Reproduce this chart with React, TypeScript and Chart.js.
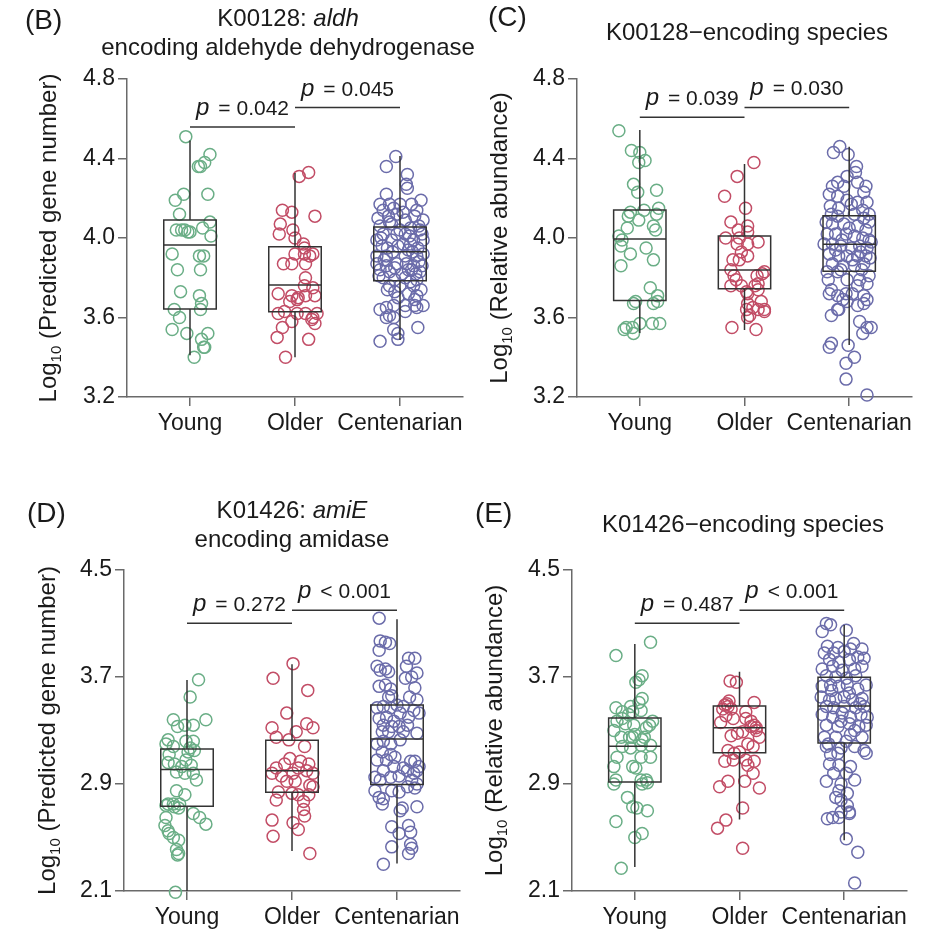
import React, { useEffect, useRef } from 'react';
import { Chart, registerables } from 'chart.js';

Chart.register(...registerables);

// ---------------- data ----------------
const groups = ['Young', 'Older', 'Centenarian'];
const xTickValues = [0, 1, 2];
const yTicksTop = [3.2, 3.6, 4.0, 4.4, 4.8];
const yTicksBottom = [2.1, 2.9, 3.7, 4.5];

// points as [horizontal jitter (category units), value]
const youngB: number[][] = [[-0.04,4.51],[0.19,4.42],[0.14,4.38],[0.08,4.36],[0.10,4.36],[-0.06,4.22],[-0.14,4.19],[0.17,4.22],[-0.10,4.12],[0.19,4.08],[-0.13,4.04],[-0.08,4.04],[-0.05,4.04],[-0.02,4.03],[0.0,4.03],[0.12,4.05],[0.20,4.01],[-0.17,3.92],[0.09,3.91],[0.13,3.91],[-0.12,3.84],[0.10,3.84],[-0.09,3.73],[0.09,3.71],[0.11,3.67],[-0.15,3.64],[-0.10,3.60],[0.10,3.64],[-0.17,3.54],[-0.03,3.52],[0.17,3.52],[0.11,3.49],[0.13,3.45],[0.14,3.45],[0.04,3.40]];
const olderB: number[][] = [[0.04,4.31],[0.13,4.33],[-0.12,4.14],[-0.03,4.13],[0.19,4.11],[-0.14,4.07],[-0.15,4.02],[-0.02,4.04],[0.0,4.00],[0.08,3.97],[0.09,3.95],[0.0,3.92],[0.09,3.92],[0.17,3.92],[0.14,3.91],[-0.11,3.87],[-0.03,3.87],[0.10,3.87],[0.10,3.80],[0.09,3.76],[0.17,3.75],[-0.16,3.72],[-0.03,3.71],[0.03,3.70],[0.10,3.71],[0.19,3.71],[-0.05,3.68],[0.02,3.69],[-0.16,3.62],[-0.10,3.63],[0.02,3.62],[0.10,3.62],[0.21,3.62],[0.17,3.60],[-0.03,3.58],[0.16,3.59],[0.19,3.57],[-0.12,3.55],[-0.17,3.50],[0.13,3.49],[-0.09,3.40]];
const centB: number[][] = [[-0.04,4.41],[-0.13,4.36],[0.07,4.32],[0.06,4.27],[0.07,4.25],[-0.13,4.22],[0.20,4.19],[-0.19,4.17],[-0.10,4.17],[0.0,4.17],[0.11,4.17],[-0.16,4.14],[0.16,4.14],[-0.03,4.12],[-0.21,4.10],[-0.11,4.11],[0.05,4.09],[0.14,4.11],[0.22,4.09],[-0.19,4.06],[-0.08,4.07],[0.0,4.04],[0.10,4.05],[0.19,4.04],[-0.16,4.02],[-0.03,4.02],[0.05,4.02],[0.21,4.02],[-0.22,3.99],[-0.08,3.99],[0.13,3.99],[0.22,3.99],[-0.17,3.96],[-0.02,3.96],[0.08,3.94],[0.17,3.95],[-0.22,3.91],[-0.13,3.91],[0.05,3.91],[0.16,3.91],[0.22,3.92],[-0.22,3.87],[-0.13,3.86],[-0.03,3.87],[0.06,3.87],[0.13,3.86],[0.21,3.86],[-0.19,3.84],[-0.10,3.83],[0.02,3.82],[0.11,3.84],[0.19,3.83],[-0.16,3.80],[-0.05,3.79],[0.05,3.80],[0.16,3.79],[-0.10,3.76],[0.0,3.76],[0.13,3.76],[-0.05,3.73],[0.08,3.72],[0.16,3.71],[-0.02,3.70],[0.14,3.69],[-0.06,3.66],[0.05,3.66],[0.14,3.66],[0.22,3.66],[-0.19,3.64],[-0.13,3.65],[-0.10,3.61],[0.05,3.63],[0.16,3.65],[-0.13,3.60],[-0.06,3.60],[0.17,3.55],[-0.06,3.54],[-0.02,3.52],[-0.19,3.48],[-0.02,3.49],[-0.18,4.00],[0.09,4.01],[-0.12,3.95],[0.03,3.97],[0.12,3.93],[-0.07,3.93],[0.18,3.88],[-0.15,3.89],[0.08,3.84],[-0.05,3.85],[0.15,3.82],[-0.20,3.81],[0.10,3.78],[-0.12,3.74],[0.20,3.74],[0.10,3.97],[-0.10,4.08],[0.03,4.13],[-0.06,4.15],[0.18,4.06]];

const youngC: number[][] = [[-0.20,4.54],[-0.08,4.44],[0.0,4.43],[0.05,4.39],[-0.01,4.38],[-0.06,4.27],[-0.02,4.23],[0.16,4.24],[-0.09,4.13],[-0.11,4.11],[-0.01,4.09],[0.04,4.14],[0.18,4.15],[0.16,4.12],[0.13,4.06],[0.15,4.04],[-0.12,4.05],[-0.20,4.01],[-0.17,3.99],[-0.18,3.96],[0.06,3.95],[-0.09,3.92],[0.13,3.89],[-0.18,3.86],[0.10,3.75],[0.17,3.71],[0.17,3.68],[0.13,3.67],[-0.04,3.68],[-0.06,3.67],[-0.15,3.54],[-0.07,3.55],[0.0,3.57],[0.12,3.57],[0.19,3.57],[-0.06,3.52],[-0.13,3.55]];
const olderC: number[][] = [[0.09,4.38],[-0.07,4.31],[-0.19,4.21],[0.01,4.15],[-0.13,4.08],[-0.06,4.04],[0.03,4.06],[0.03,4.03],[-0.18,4.00],[-0.07,3.97],[0.03,3.97],[0.13,3.98],[-0.05,4.00],[-0.03,3.93],[-0.11,3.89],[-0.05,3.89],[0.03,3.91],[-0.13,3.84],[-0.10,3.81],[-0.08,3.79],[-0.13,3.76],[0.12,3.81],[0.17,3.82],[0.10,3.76],[0.13,3.77],[0.02,3.73],[-0.03,3.76],[0.03,3.67],[0.02,3.64],[0.05,3.61],[0.16,3.68],[0.19,3.64],[0.13,3.64],[0.03,3.60],[-0.12,3.55],[0.11,3.54],[0.19,3.83],[0.13,3.74],[0.03,3.72],[0.19,3.63],[0.08,3.65]];
const centC: number[][] = [[-0.15,4.43],[-0.09,4.46],[-0.01,4.42],[0.07,4.36],[0.06,4.33],[-0.02,4.31],[-0.11,4.28],[-0.16,4.26],[-0.05,4.26],[0.08,4.28],[0.16,4.26],[0.14,4.23],[-0.19,4.22],[-0.11,4.21],[-0.02,4.19],[0.08,4.18],[0.17,4.18],[-0.18,4.16],[-0.10,4.15],[0.02,4.17],[0.13,4.14],[0.19,4.12],[-0.17,4.12],[-0.11,4.11],[0.05,4.12],[0.14,4.10],[0.19,4.08],[-0.22,4.08],[-0.16,4.07],[-0.05,4.07],[0.08,4.06],[0.16,4.04],[-0.21,4.02],[-0.13,4.02],[-0.03,4.02],[0.05,4.01],[0.13,4.00],[0.19,3.99],[-0.24,3.97],[-0.16,3.97],[-0.08,3.96],[0.02,3.95],[0.10,3.96],[0.17,3.95],[0.21,3.98],[-0.19,3.92],[-0.10,3.91],[-0.02,3.91],[0.08,3.91],[0.16,3.91],[-0.16,3.87],[-0.06,3.86],[0.05,3.86],[0.14,3.87],[-0.21,3.83],[-0.11,3.83],[-0.02,3.79],[0.10,3.79],[0.19,3.81],[-0.17,3.74],[0.08,3.76],[0.17,3.77],[-0.11,3.71],[-0.03,3.72],[0.03,3.72],[0.14,3.71],[0.17,3.69],[-0.19,3.72],[-0.02,3.68],[-0.06,3.69],[0.14,3.67],[0.08,3.66],[-0.11,3.64],[-0.17,3.61],[-0.10,3.64],[0.10,3.58],[0.17,3.55],[0.21,3.55],[0.13,3.52],[-0.17,3.47],[-0.19,3.45],[-0.01,3.46],[0.05,3.40],[-0.03,3.37],[-0.03,3.29],[0.17,3.21],[0.0,4.05],[-0.07,3.99],[0.11,3.93],[-0.13,3.94],[0.03,3.89],[0.20,3.90],[-0.08,3.84],[0.12,3.84],[-0.20,3.79]];

const youngD: number[][] = [[0.11,3.68],[0.03,3.55],[0.18,3.38],[-0.13,3.38],[-0.09,3.33],[-0.02,3.34],[0.06,3.34],[-0.18,3.23],[-0.20,3.20],[-0.13,3.18],[-0.01,3.22],[0.06,3.22],[0.03,3.17],[0.07,3.15],[0.01,3.14],[-0.17,3.12],[-0.18,3.06],[-0.12,3.05],[-0.05,3.03],[0.04,3.04],[-0.01,3.08],[0.06,2.98],[-0.02,2.98],[-0.10,2.99],[0.09,2.93],[-0.10,2.85],[-0.02,2.82],[-0.18,2.75],[-0.20,2.74],[-0.13,2.75],[-0.07,2.75],[-0.12,2.73],[-0.08,2.72],[-0.20,2.65],[0.06,2.68],[0.12,2.65],[0.18,2.60],[-0.17,2.53],[-0.13,2.50],[-0.08,2.48],[-0.21,2.59],[-0.18,2.55],[-0.10,2.41],[-0.08,2.38],[-0.09,2.37],[-0.11,2.09]];
const olderD: number[][] = [[0.01,3.80],[-0.18,3.69],[0.15,3.60],[-0.05,3.43],[-0.19,3.32],[0.04,3.29],[0.14,3.35],[0.20,3.32],[-0.15,3.25],[-0.03,3.23],[0.12,3.18],[-0.02,3.09],[0.08,3.07],[0.16,3.05],[-0.07,3.05],[-0.15,3.02],[-0.19,2.98],[-0.10,2.96],[0.01,2.98],[0.06,3.02],[0.14,3.00],[0.20,2.98],[0.17,2.89],[0.20,2.88],[-0.05,2.92],[0.03,2.92],[-0.13,2.84],[0.0,2.83],[0.06,2.82],[0.16,2.82],[-0.15,2.78],[0.11,2.77],[0.12,2.66],[0.11,2.71],[-0.19,2.63],[0.01,2.61],[0.06,2.56],[-0.18,2.51],[0.17,2.38]];
const centD: number[][] = [[-0.17,4.14],[-0.16,3.97],[-0.11,3.96],[-0.07,3.95],[-0.17,3.90],[-0.19,3.78],[-0.16,3.75],[-0.11,3.76],[-0.08,3.74],[0.11,3.84],[0.17,3.84],[0.09,3.78],[0.14,3.70],[0.19,3.73],[-0.17,3.63],[-0.11,3.64],[-0.06,3.61],[-0.05,3.56],[-0.08,3.55],[0.19,3.53],[0.12,3.55],[-0.19,3.47],[-0.13,3.48],[-0.06,3.47],[0.0,3.49],[0.06,3.48],[0.16,3.45],[0.21,3.43],[0.11,3.40],[0.03,3.43],[-0.17,3.39],[-0.10,3.40],[-0.03,3.37],[-0.13,3.34],[-0.05,3.33],[0.02,3.33],[-0.14,3.29],[-0.08,3.29],[0.06,3.29],[0.10,3.34],[-0.13,3.22],[-0.06,3.20],[0.19,3.28],[0.03,3.23],[-0.19,3.20],[-0.14,3.14],[-0.06,3.12],[-0.19,3.08],[-0.10,3.08],[-0.02,3.10],[0.13,3.07],[0.17,3.07],[0.21,3.03],[0.10,3.00],[0.16,2.98],[0.19,3.00],[0.06,3.02],[-0.03,3.03],[-0.13,3.00],[-0.21,2.95],[-0.16,2.93],[-0.06,2.95],[0.02,2.96],[0.14,2.93],[0.19,2.90],[-0.21,2.85],[-0.17,2.80],[-0.13,2.79],[-0.14,2.75],[-0.05,2.85],[0.02,2.84],[0.10,2.88],[0.17,2.87],[0.03,2.70],[0.05,2.72],[0.19,2.73],[-0.05,2.58],[0.02,2.53],[0.11,2.59],[0.13,2.54],[-0.05,2.43],[0.13,2.45],[0.14,2.42],[0.11,2.38],[-0.13,2.30],[0.17,3.62],[0.08,3.69]];

const youngE: number[][] = [[0.15,3.96],[-0.18,3.86],[0.07,3.71],[0.04,3.68],[0.01,3.66],[0.07,3.54],[0.04,3.51],[-0.18,3.47],[-0.04,3.48],[-0.12,3.44],[-0.06,3.42],[0.06,3.45],[0.17,3.37],[0.14,3.34],[-0.02,3.44],[-0.17,3.37],[-0.12,3.39],[-0.09,3.35],[-0.01,3.34],[0.11,3.32],[0.0,3.27],[0.09,3.25],[-0.13,3.25],[-0.05,3.25],[-0.20,3.30],[-0.12,3.18],[-0.04,3.17],[0.06,3.19],[0.15,3.19],[-0.02,3.25],[0.07,3.23],[-0.17,3.10],[0.06,3.10],[0.15,3.10],[-0.02,3.03],[0.01,3.02],[-0.20,3.03],[-0.18,2.93],[-0.20,2.90],[0.06,2.93],[0.07,2.90],[0.12,2.91],[0.11,2.93],[-0.07,2.80],[-0.02,2.73],[0.02,2.72],[0.12,2.70],[-0.18,2.62],[0.0,2.50],[0.07,2.53],[-0.13,2.27]];
const olderE: number[][] = [[-0.09,3.67],[-0.03,3.66],[0.14,3.51],[-0.14,3.49],[-0.11,3.48],[-0.16,3.46],[-0.08,3.46],[-0.13,3.41],[-0.06,3.39],[-0.18,3.36],[0.06,3.44],[0.06,3.39],[0.11,3.33],[0.14,3.34],[0.16,3.30],[0.19,3.25],[0.03,3.29],[-0.02,3.28],[-0.08,3.26],[0.08,3.20],[0.13,3.18],[-0.11,3.15],[-0.05,3.13],[0.0,3.14],[-0.14,3.07],[-0.06,3.08],[0.06,3.08],[0.14,3.07],[0.08,3.04],[0.13,2.98],[0.19,2.87],[0.05,2.92],[-0.11,2.92],[-0.19,2.88],[0.03,2.72],[-0.13,2.63],[-0.21,2.57],[0.03,2.42],[-0.12,3.50],[-0.10,3.52],[0.11,3.37],[0.16,3.32]];
const centE: number[][] = [[-0.17,4.10],[-0.13,4.09],[-0.21,4.04],[0.02,4.05],[-0.16,3.93],[-0.06,3.92],[0.06,3.91],[0.17,3.91],[-0.10,3.88],[0.0,3.89],[0.13,3.85],[0.19,3.84],[-0.14,3.83],[-0.05,3.81],[0.05,3.83],[-0.21,3.76],[-0.11,3.78],[-0.02,3.75],[0.10,3.76],[0.17,3.78],[-0.17,3.71],[-0.08,3.70],[0.02,3.69],[0.11,3.71],[-0.21,3.63],[-0.13,3.64],[-0.05,3.63],[0.03,3.64],[0.13,3.61],[0.21,3.64],[-0.22,3.55],[-0.14,3.53],[-0.08,3.54],[0.0,3.55],[0.08,3.53],[0.17,3.54],[-0.17,3.48],[-0.10,3.47],[0.0,3.48],[0.11,3.47],[0.19,3.48],[-0.21,3.42],[-0.11,3.40],[-0.02,3.43],[0.06,3.40],[0.16,3.42],[0.22,3.40],[-0.17,3.34],[-0.06,3.33],[0.05,3.35],[0.14,3.33],[0.21,3.34],[-0.19,3.25],[-0.08,3.25],[0.06,3.27],[0.17,3.25],[0.02,3.22],[-0.17,3.18],[-0.03,3.17],[0.10,3.18],[0.19,3.15],[0.21,3.13],[-0.13,3.12],[-0.06,3.13],[-0.14,3.05],[-0.05,3.04],[0.06,3.03],[-0.10,2.98],[0.02,2.98],[-0.17,2.92],[-0.03,2.90],[0.10,2.93],[-0.05,2.85],[0.03,2.83],[-0.08,2.80],[-0.03,2.78],[0.03,2.74],[-0.03,2.69],[0.05,2.68],[-0.16,2.64],[-0.11,2.65],[-0.05,2.65],[0.05,2.69],[0.02,2.49],[0.13,2.39],[0.10,2.16],[-0.19,3.88],[0.09,3.95],[-0.12,3.60],[0.05,3.58],[0.15,3.50],[-0.03,3.37],[0.10,3.30],[-0.15,3.20]];

// box summaries per group: [lower whisker, Q1, median, Q3, upper whisker]
const boxB = [[3.41,3.643,3.965,4.09,4.49],[3.40,3.629,3.764,3.956,4.327],[3.487,3.785,3.931,4.055,4.413]];
const boxC = [[3.522,3.685,3.995,4.141,4.543],[3.537,3.745,3.839,4.01,4.372],[3.462,3.833,3.968,4.112,4.459]];
const boxD = [[2.1,2.734,3.008,3.162,3.677],[2.399,2.838,3.0,3.228,3.796],[2.305,2.896,3.237,3.49,4.131]];
const boxE = [[2.279,2.915,3.183,3.394,3.946],[2.634,3.133,3.32,3.484,3.739],[2.479,3.207,3.484,3.699,4.088]];

// significance brackets: heights and labels (Young–Older, Older–Centenarian)
const pHeightB = [4.558, 4.656];
const pLabelB = ['= 0.042', '= 0.045'];
const pHeightC = [4.607, 4.657];
const pLabelC = ['= 0.039', '= 0.030'];
const pHeightD = [4.101, 4.2];
const pLabelD = ['= 0.272', '< 0.001'];
const pHeightE = [4.101, 4.2];
const pLabelE = ['= 0.487', '< 0.001'];

// ---------------- styles ----------------
const FONT = "'Liberation Sans', Arial, Helvetica, sans-serif";
const TEXT = '#1a1a1a';
const AXIS = '#6a6a6a';
const BOXC = '#333333';
const groupColors = ['#6aae86', '#c24d66', '#6b6caa'];
const BOX_HALF = 0.25;

type Part = { t: string; i?: boolean };

const panels = [
  {
    id: 'B', left: 0, top: 0, w: 484, h: 455, area: { l: 127, t: 79, r: 463, b: 397 },
    yMin: 3.2, yMax: 4.8, yTicks: yTicksTop,
    points: [youngB, olderB, centB], boxes: boxB, pH: pHeightB, pL: pLabelB,
    letter: '(B)', letterX: 25, letterY: 29,
    title: [[{ t: 'K00128: ' }, { t: 'aldh', i: true }], [{ t: 'encoding aldehyde dehydrogenase' }]] as Part[][],
    titleX: 288, titleY: [26, 55],
    yTitle: ' (Predicted gene number)', yTitleX: 56,
  },
  {
    id: 'C', left: 470, top: 0, w: 457, h: 455, area: { l: 107, t: 79, r: 442, b: 397 },
    yMin: 3.2, yMax: 4.8, yTicks: yTicksTop,
    points: [youngC, olderC, centC], boxes: boxC, pH: pHeightC, pL: pLabelC,
    letter: '(C)', letterX: 18, letterY: 26,
    title: [[{ t: 'K00128\u2212encoding species' }]] as Part[][],
    titleX: 277, titleY: [40],
    yTitle: ' (Relative abundance)', yTitleX: 37,
  },
  {
    id: 'D', left: 0, top: 455, w: 470, h: 476, area: { l: 124, t: 115, r: 460, b: 436 },
    yMin: 2.1, yMax: 4.5, yTicks: yTicksBottom,
    points: [youngD, olderD, centD], boxes: boxD, pH: pHeightD, pL: pLabelD,
    letter: '(D)', letterX: 27, letterY: 67,
    title: [[{ t: 'K01426: ' }, { t: 'amiE', i: true }], [{ t: 'encoding amidase' }]] as Part[][],
    titleX: 292, titleY: [63, 92],
    yTitle: ' (Predicted gene number)', yTitleX: 55,
  },
  {
    id: 'E', left: 470, top: 455, w: 457, h: 476, area: { l: 102, t: 115, r: 437, b: 436 },
    yMin: 2.1, yMax: 4.5, yTicks: yTicksBottom,
    points: [youngE, olderE, centE], boxes: boxE, pH: pHeightE, pL: pLabelE,
    letter: '(E)', letterX: 5, letterY: 67,
    title: [[{ t: 'K01426\u2212encoding species' }]] as Part[][],
    titleX: 273, titleY: [77],
    yTitle: ' (Relative abundance)', yTitleX: 32,
  },
];

function font(size: number, italic = false) {
  return `${italic ? 'italic ' : ''}${size}px ${FONT}`;
}

function drawParts(ctx: CanvasRenderingContext2D, parts: Part[], cx: number, y: number, size: number) {
  let total = 0;
  const widths = parts.map((p) => {
    ctx.font = font(size, !!p.i);
    const w = ctx.measureText(p.t).width;
    total += w;
    return w;
  });
  let x = cx - total / 2;
  parts.forEach((p, k) => {
    ctx.font = font(size, !!p.i);
    ctx.fillText(p.t, x, y);
    x += widths[k];
  });
}

function overlay(s: any) {
  return {
    id: 'overlay' + s.id,
    afterDatasetsDraw(chart: any) {
      const ctx: CanvasRenderingContext2D = chart.ctx;
      const xs = chart.scales.x;
      const ys = chart.scales.y;
      ctx.save();
      ctx.strokeStyle = BOXC;
      ctx.lineWidth = 1.5;
      s.boxes.forEach((b: number[], i: number) => {
        const [lo, q1, med, q3, hi] = b;
        const xc = xs.getPixelForValue(xTickValues[i]);
        const xl = xs.getPixelForValue(xTickValues[i] - BOX_HALF);
        const xr = xs.getPixelForValue(xTickValues[i] + BOX_HALF);
        const yLo = ys.getPixelForValue(lo);
        const yQ1 = ys.getPixelForValue(q1);
        const yMed = ys.getPixelForValue(med);
        const yQ3 = ys.getPixelForValue(q3);
        const yHi = ys.getPixelForValue(hi);
        ctx.beginPath();
        ctx.moveTo(xc, yHi); ctx.lineTo(xc, yQ3);
        ctx.moveTo(xc, yQ1); ctx.lineTo(xc, yLo);
        ctx.moveTo(xl, yMed); ctx.lineTo(xr, yMed);
        ctx.rect(xl, yQ3, xr - xl, yQ1 - yQ3);
        ctx.stroke();
      });
      // significance brackets
      ctx.fillStyle = TEXT;
      ctx.textBaseline = 'alphabetic';
      ctx.textAlign = 'left';
      s.pH.forEach((h: number, k: number) => {
        const x1 = xs.getPixelForValue(xTickValues[k]);
        const x2 = xs.getPixelForValue(xTickValues[k + 1]);
        const y = ys.getPixelForValue(h);
        ctx.beginPath();
        ctx.moveTo(x1, y); ctx.lineTo(x2, y);
        ctx.stroke();
        ctx.font = font(24, true);
        const wp = ctx.measureText('p').width;
        ctx.font = font(21);
        const wt = ctx.measureText(s.pL[k]).width;
        const gap = 9;
        const start = (x1 + x2) / 2 - (wp + gap + wt) / 2;
        ctx.font = font(24, true);
        ctx.fillText('p', start, y - 12);
        ctx.font = font(21);
        ctx.fillText(s.pL[k], start + wp + gap, y - 12);
      });
      ctx.restore();
    },
    afterDraw(chart: any) {
      const ctx: CanvasRenderingContext2D = chart.ctx;
      const area = chart.chartArea;
      ctx.save();
      ctx.fillStyle = TEXT;
      ctx.textBaseline = 'alphabetic';
      ctx.textAlign = 'left';
      // panel letter
      ctx.font = font(28);
      ctx.fillText(s.letter, s.letterX, s.letterY);
      // title
      s.title.forEach((line: Part[], k: number) => {
        drawParts(ctx, line, s.titleX, s.titleY[k], 24);
      });
      // y title (rotated)
      ctx.translate(s.yTitleX, (area.top + area.bottom) / 2);
      ctx.rotate(-Math.PI / 2);
      ctx.font = font(24);
      const w1 = ctx.measureText('Log').width;
      const w3 = ctx.measureText(s.yTitle).width;
      ctx.font = font(15);
      const w2 = ctx.measureText('10').width;
      let x = -(w1 + w2 + w3) / 2;
      ctx.font = font(24);
      ctx.fillText('Log', x, 0);
      x += w1;
      ctx.font = font(15);
      ctx.fillText('10', x, 5);
      x += w2;
      ctx.font = font(24);
      ctx.fillText(s.yTitle, x, 0);
      ctx.restore();
    },
  };
}

function buildConfig(s: any): any {
  const axisCommon = {
    grid: { display: true, drawOnChartArea: false, drawTicks: true, tickLength: 9, color: AXIS, lineWidth: 1.5 },
    border: { display: true, color: AXIS, width: 1.5 },
  };
  return {
    type: 'scatter',
    data: {
      datasets: s.points.map((pts: number[][], i: number) => ({
        label: groups[i],
        data: pts.map(([dx, y]) => ({ x: xTickValues[i] + dx, y })),
        pointRadius: 6,
        pointHoverRadius: 6,
        pointBorderWidth: 1.5,
        pointBackgroundColor: 'rgba(0,0,0,0)',
        pointBorderColor: groupColors[i],
        clip: false,
      })),
    },
    options: {
      responsive: false,
      animation: false,
      events: [],
      layout: { padding: { left: 0, top: s.area.t, right: s.w - s.area.r, bottom: 0 } },
      plugins: { legend: { display: false }, tooltip: { enabled: false }, title: { display: false } },
      scales: {
        x: {
          type: 'linear',
          min: -0.6,
          max: 2.6,
          afterFit: (sc: any) => { sc.height = s.h - s.area.b; },
          afterBuildTicks: (sc: any) => { sc.ticks = xTickValues.map((v) => ({ value: v })); },
          ticks: {
            callback: (v: number) => groups[Math.round(v)],
            font: { size: 23, family: FONT },
            color: TEXT,
            padding: 4,
            autoSkip: false,
            maxRotation: 0,
            minRotation: 0,
          },
          ...axisCommon,
        },
        y: {
          type: 'linear',
          min: s.yMin,
          max: s.yMax,
          afterFit: (sc: any) => { sc.width = s.area.l; },
          afterBuildTicks: (sc: any) => { sc.ticks = s.yTicks.map((v: number) => ({ value: v })); },
          ticks: {
            callback: (v: number) => Number(v).toFixed(1),
            font: { size: 23, family: FONT },
            color: TEXT,
            padding: 3,
          },
          ...axisCommon,
        },
      },
    },
    plugins: [overlay(s)],
  };
}

function Panel({ spec }: { spec: any }) {
  const ref = useRef<HTMLCanvasElement>(null);
  useEffect(() => {
    const chart = new Chart(ref.current as HTMLCanvasElement, buildConfig(spec));
    return () => chart.destroy();
  }, [spec]);
  return (
    <canvas
      ref={ref}
      width={spec.w}
      height={spec.h}
      style={{ position: 'absolute', left: spec.left, top: spec.top, width: spec.w, height: spec.h }}
    />
  );
}

export default function App() {
  return (
    <div style={{ position: 'absolute', left: 0, top: 0, width: 927, height: 931, background: '#ffffff', overflow: 'hidden' }}>
      {panels.map((p) => (
        <Panel key={p.id} spec={p} />
      ))}
    </div>
  );
}
